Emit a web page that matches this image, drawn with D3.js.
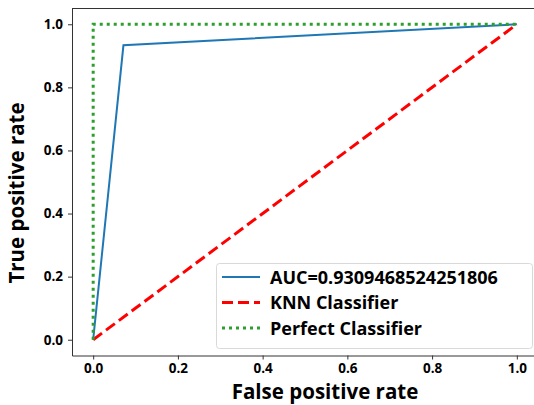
<!DOCTYPE html>
<html lang="en">
<head>
	<meta charset="UTF-8"/>
	<title>ROC curve</title>
	<script src="https://d3js.org/d3.v7.min.js"></script>
	<style>
		body { margin: 0; background-color: white; }
		text { font-family: "Open Sans", sans-serif; font-weight: bold; fill: black; }
	</style>
</head>
<body>
	<script>
	// ROC data
	var rocFpr = [0, 0.0714, 1];
	var rocTpr = [0, 0.9333, 1];
	var knnFpr = [0, 1];
	var knnTpr = [0, 1];
	var perfectFpr = [0, 0, 1];
	var perfectTpr = [0, 1, 1];
	var tickValues = [0, 0.2, 0.4, 0.6, 0.8, 1.0];
	var legendLabels = ["AUC=0.9309468524251806", "KNN Classifier", "Perfect Classifier"];

	var w = 534;
	var h = 405;

	var xScale = d3.scaleLinear()
					.domain([-0.05, 1.05])
					.range([72, 538]);
	var yScale = d3.scaleLinear()
					.domain([-0.05, 1.05])
					.range([355.5, 8.5]);

	var svg = d3.select("body")
				.append("svg")
				.attr("width", w)
				.attr("height", h);

	var line = d3.line()
				.x(d => xScale(d[0]))
				.y(d => yScale(d[1]));

	function pairs(xs, ys) {
		return xs.map((x, i) => [x, ys[i]]);
	}

	var series = [
		{ pts: pairs(rocFpr, rocTpr), color: "#1f77b4", width: 2, dash: null },
		{ pts: pairs(knnFpr, knnTpr), color: "#ff0000", width: 3, dash: "11,5" },
		{ pts: pairs(perfectFpr, perfectTpr), color: "#2ca02c", width: 3, dash: "3,4" }
	];

	series.forEach(function (s) {
		svg.append("path")
			.attr("d", line(s.pts))
			.attr("fill", "none")
			.attr("stroke", s.color)
			.attr("stroke-width", s.width)
			.attr("stroke-dasharray", s.dash);
	});

	// axes
	var xAxis = d3.axisBottom(xScale)
				.tickValues(tickValues)
				.tickFormat(d3.format(".1f"))
				.tickSizeInner(4).tickSizeOuter(0).tickPadding(4);
	var yAxis = d3.axisLeft(yScale)
				.tickValues(tickValues)
				.tickFormat(d3.format(".1f"))
				.tickSizeInner(4).tickSizeOuter(0).tickPadding(5);

	var gx = svg.append("g")
		.attr("transform", "translate(0," + yScale(-0.05) + ")")
		.call(xAxis);
	var gy = svg.append("g")
		.attr("transform", "translate(" + xScale(-0.05) + ",0)")
		.call(yAxis);

	[gx, gy].forEach(function (g) {
		g.selectAll("text").style("font-size", "13.5px").style("font-family", "'Open Sans', sans-serif").style("font-weight", "bold");
		g.selectAll("line, path").attr("stroke", "#333");
	});

	// top spine
	svg.append("line")
		.attr("x1", xScale(-0.05)).attr("x2", xScale(1.05))
		.attr("y1", yScale(1.05)).attr("y2", yScale(1.05))
		.attr("stroke", "#333");

	svg.append("text")
		.attr("x", 325)
		.attr("y", 399)
		.attr("text-anchor", "middle")
		.style("font-size", "20.5px")
		.text("False positive rate");

	svg.append("text")
		.attr("transform", "translate(24,193) rotate(-90)")
		.attr("text-anchor", "middle")
		.style("font-size", "20.5px")
		.text("True positive rate");

	// legend
	var legend = svg.append("g");
	legend.append("rect")
		.attr("x", 216.5).attr("y", 263.5)
		.attr("width", 316).attr("height", 85)
		.attr("rx", 3)
		.attr("fill", "white")
		.attr("fill-opacity", 0.8)
		.attr("stroke", "#d9d9d9");

	series.forEach(function (s, i) {
		var yy = 277 + i * 25.5;
		legend.append("line")
			.attr("x1", 222).attr("x2", 260)
			.attr("y1", yy).attr("y2", yy)
			.attr("stroke", s.color)
			.attr("stroke-width", s.width)
			.attr("stroke-dasharray", s.dash);
		legend.append("text")
			.attr("x", 270)
			.attr("y", yy + 6.5)
			.style("font-size", "18px")
			.text(legendLabels[i]);
	});
	</script>
</body>
</html>
